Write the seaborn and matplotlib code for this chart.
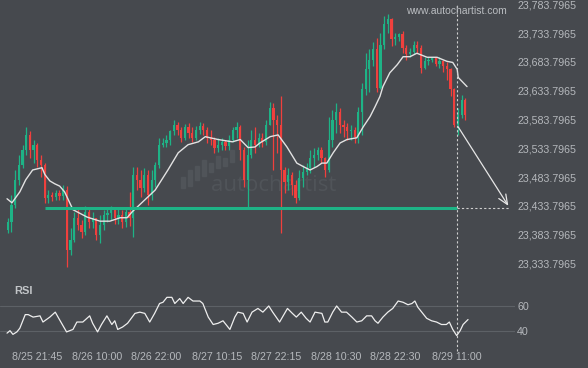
import numpy as np
import matplotlib
matplotlib.use('Agg')
import matplotlib.pyplot as plt
from matplotlib.patches import Rectangle
import seaborn as sns

# --- data (hours counted from 8/25 00:00, 45-minute candles) ---
first_open = 23392
closes = [23406, 23435, 23479, 23505, 23531, 23557, 23531, 23540, 23514, 23505,
          23447, 23453, 23449, 23456, 23451, 23461, 23357, 23374, 23413, 23400,
          23388, 23423, 23406, 23413, 23383, 23400, 23418, 23421, 23427, 23413,
          23418, 23406, 23423, 23413, 23488, 23479, 23465, 23488, 23453, 23479,
          23505, 23540, 23543, 23549, 23563, 23575, 23566, 23552, 23570, 23561,
          23552, 23566, 23573, 23566, 23552, 23549, 23535, 23540, 23545, 23538,
          23549, 23566, 23570, 23531, 23479, 23522, 23549, 23540, 23552, 23545,
          23575, 23604, 23583, 23575, 23496, 23475, 23488, 23470, 23447, 23482,
          23493, 23500, 23517, 23522, 23531, 23517, 23496, 23549, 23583, 23597,
          23575, 23570, 23563, 23566, 23554, 23597, 23636, 23671, 23688, 23706,
          23639, 23714, 23749, 23758, 23723, 23728, 23732, 23709, 23697, 23702,
          23714, 23709, 23674, 23685, 23688, 23690, 23681, 23685, 23676, 23671,
          23636, 23575, 23592, 23618, 23592]
highs = [23413, 23453, 23496, 23522, 23540, 23570, 23563, 23549, 23543, 23522,
         23508, 23461, 23458, 23461, 23461, 23470, 23468, 23395, 23423, 23432,
         23409, 23434, 23430, 23423, 23413, 23418, 23427, 23432, 23434, 23432,
         23430, 23427, 23432, 23458, 23502, 23502, 23496, 23500, 23496, 23496,
         23510, 23552, 23552, 23557, 23566, 23583, 23580, 23571, 23576, 23578,
         23571, 23573, 23580, 23578, 23570, 23566, 23554, 23552, 23552, 23549,
         23556, 23571, 23580, 23575, 23536, 23549, 23566, 23570, 23561, 23561,
         23583, 23615, 23613, 23592, 23624, 23502, 23500, 23493, 23479, 23496,
         23505, 23508, 23531, 23535, 23536, 23536, 23519, 23589, 23601, 23613,
         23604, 23583, 23578, 23575, 23570, 23606, 23648, 23700, 23706, 23718,
         23726, 23735, 23763, 23767, 23761, 23735, 23735, 23737, 23714, 23709,
         23720, 23720, 23714, 23692, 23692, 23693, 23692, 23692, 23688, 23683,
         23674, 23639, 23604, 23627, 23622]
lows = [23386, 23388, 23430, 23470, 23500, 23522, 23517, 23508, 23502, 23484,
        23439, 23439, 23442, 23444, 23444, 23444, 23327, 23348, 23371, 23392,
        23378, 23383, 23395, 23395, 23374, 23369, 23392, 23406, 23409, 23402,
        23402, 23395, 23397, 23399, 23379, 23461, 23449, 23458, 23435, 23444,
        23467, 23500, 23536, 23536, 23540, 23557, 23557, 23545, 23549, 23552,
        23545, 23549, 23559, 23557, 23543, 23540, 23526, 23528, 23531, 23531,
        23531, 23545, 23552, 23514, 23467, 23430, 23517, 23526, 23536, 23536,
        23540, 23575, 23496, 23526, 23386, 23456, 23461, 23453, 23439, 23444,
        23467, 23488, 23491, 23502, 23514, 23508, 23484, 23493, 23536, 23561,
        23561, 23554, 23549, 23549, 23543, 23543, 23557, 23627, 23631, 23676,
        23631, 23636, 23706, 23735, 23711, 23714, 23720, 23700, 23688, 23692,
        23697, 23700, 23665, 23671, 23678, 23683, 23676, 23674, 23667, 23653,
        23624, 23570, 23557, 23587, 23583]

ma_hours = [15.6, 16.6, 18.2, 19.4, 20.8, 22.7, 23.3, 24.3, 25.3, 26.3, 27.3, 29.0,
            31.9, 34.5, 36.5, 38.6, 40.0, 41.0, 43.6, 45.7, 48.3, 50.4, 52.4, 54.5,
            55.9, 56.9, 58.5, 61.4, 63.0, 64.6, 66.0, 67.0, 69.1, 70.7, 72.5, 74.5,
            75.8, 77.2, 78.6, 79.6, 80.6, 81.9, 83.3, 84.7, 86.7, 88.0, 89.4, 90.4,
            91.4, 92.0, 93.4, 94.9, 96.1, 97.5, 98.9, 101.0, 103.0, 105.0, 106.2,
            107.1, 107.3, 109.1]
ma_values = [23446, 23439, 23458, 23479, 23496, 23500, 23488, 23477, 23472, 23468,
             23458, 23427, 23414, 23407, 23407, 23413, 23413, 23423, 23444, 23461,
             23496, 23526, 23540, 23545, 23554, 23552, 23549, 23545, 23549, 23535,
             23536, 23543, 23554, 23557, 23536, 23508, 23502, 23496, 23502, 23508,
             23508, 23526, 23543, 23549, 23552, 23571, 23589, 23606, 23624, 23641,
             23665, 23679, 23693, 23693, 23699, 23692, 23692, 23685, 23683, 23671,
             23657, 23641]

rsi_hours = [15.6, 16.2, 16.8, 17.6, 18.2, 19.3, 19.9, 20.9, 22.3, 22.9, 24.3, 25.4,
             26.4, 27.7, 29.0, 29.8, 31.0, 32.4, 33.0, 34.0, 34.8, 35.9, 36.9, 37.5,
             38.1, 39.1, 40.1, 41.6, 42.6, 43.6, 44.6, 45.6, 46.6, 47.3, 48.1, 49.1,
             49.7, 50.7, 51.4, 52.4, 53.4, 54.8, 55.4, 56.5, 57.5, 58.5, 59.5, 60.9,
             61.9, 62.5, 63.6, 64.4, 65.4, 66.6, 67.6, 68.8, 69.6, 71.0, 72.6, 73.6,
             74.4, 75.4, 76.4, 77.2, 78.2, 79.6, 80.2, 80.8, 81.8, 82.6, 83.6, 84.6,
             85.7, 86.7, 87.7, 88.7, 89.7, 90.4, 91.0, 92.0, 93.0, 94.0, 95.1, 96.1,
             97.1, 97.9, 98.5, 99.1, 100.1, 100.9, 101.9, 102.9, 103.9, 104.9, 105.5,
             106.2, 107.0, 107.7, 108.3, 109.3]
rsi_values = [38, 40, 37, 39, 42, 53, 53, 51, 52, 47, 51, 55,
              48, 39, 41, 47, 47, 52, 46, 39, 45, 52, 45, 48,
              41, 43, 46, 54, 55, 54, 47, 54, 62, 63, 67, 67,
              62, 66, 62, 67, 64, 64, 62, 51, 45, 46, 48, 41,
              51, 55, 54, 47, 55, 58, 55, 60, 55, 47, 58, 54,
              51, 55, 50, 47, 55, 54, 47, 47, 55, 60, 55, 55,
              51, 47, 48, 52, 52, 48, 46, 51, 55, 58, 64, 63,
              61, 62, 64, 59, 54, 50, 48, 47, 45, 45, 47,
              41, 36, 40, 45, 49]

tick_hours = [21.75, 34.0, 46.0, 58.25, 70.25, 82.5, 94.5, 107.0]
tick_labels = ['8/25 21:45', '8/26 10:00', '8/26 22:00', '8/27 10:15',
               '8/27 22:15', '8/28 10:30', '8/28 22:30', '8/29 11:00']
price_ticks = [23333.7965, 23383.7965, 23433.7965, 23483.7965, 23533.7965,
               23583.7965, 23633.7965, 23683.7965, 23733.7965, 23783.7965]

level = 23429.6          # support line
level_start = 23.3
now_hour = 107.0
arrow_start = 23575
arrow_end_hour = 117.8

# --- style ---
bg = '#46494e'
txt = '#b5b8bc'
green = '#1eb386'
red = '#f0403d'
sns.set_style('dark', {'axes.facecolor': bg, 'figure.facecolor': bg})
plt.rcParams['font.family'] = ['Liberation Sans', 'DejaVu Sans']

fig = plt.figure(figsize=(5.88, 3.68), dpi=100)
W, H = 588, 368
ax = fig.add_axes([0, 1 - 283 / H, 515 / W, 283 / H])
rsi_ax = fig.add_axes([0, 1 - 345 / H, 515 / W, 62 / H])

xlim = (14.17, 118.85)

# --- watermark (logo bars + word) ---
wm = '#505459'
for bx, btop, bbot in [(181, 177, 188), (188, 170, 186), (195, 166, 180),
                       (202, 160, 176), (209, 163, 172), (216, 156, 168),
                       (223, 158, 166), (230, 150, 162)]:
    fig.patches.append(Rectangle((bx / W, 1 - bbot / H), 3.5 / W, (bbot - btop) / H,
                                 transform=fig.transFigure, color=wm, zorder=0))
ax.text(0.532, 0.346, 'autochartist', transform=ax.transAxes, ha='center',
        va='center', fontsize=16, color=wm, family='Open Sans', zorder=0)

# --- candles ---
closes_a = np.array(closes, dtype=float)
opens_a = np.r_[first_open, closes_a[:-1]]
candle_hours = 15.75 + 0.75 * np.arange(len(closes_a))
colors = np.where(closes_a >= opens_a, green, red)

ax.vlines(candle_hours, lows, highs, colors=colors, lw=0.9, zorder=2)
ax.bar(candle_hours, closes_a - opens_a, bottom=opens_a, width=0.45,
       color=colors, linewidth=0, zorder=3)

sns.lineplot(x=ma_hours, y=ma_values, ax=ax, color='#e2e2e2', lw=1.0, zorder=4)

ax.hlines(level, level_start, now_hour, color=green, lw=2.2, zorder=5)
ax.hlines(level, now_hour, arrow_end_hour, color='#cfcfcf', lw=0.8,
          linestyles=(0, (2, 2)), zorder=5)
ax.axvline(now_hour, ymin=0, ymax=0.985, color='#cfcfcf', lw=0.8,
           ls=(0, (2, 2)), zorder=5)
ax.annotate('', xy=(arrow_end_hour, level), xytext=(now_hour, arrow_start),
            arrowprops=dict(arrowstyle='->,head_length=0.7,head_width=0.3',
                            color='#e6e6e6', lw=0.9), zorder=6)

ax.set_xlim(xlim)
ax.set_ylim(23299.5, 23791.6)
ax.set_xticks([])
ax.yaxis.tick_right()
ax.set_yticks(price_ticks)
ax.set_yticklabels([f'{v:,.4f}' for v in price_ticks])
ax.tick_params(axis='y', length=0, pad=1.5, labelsize=7.7, labelcolor=txt)
ax.set_xlabel('')
ax.set_ylabel('')
for s in ax.spines.values():
    s.set_visible(False)

fig.text(456 / W, 1 - 11 / H, 'www.autochartist.com', ha='center', va='center',
         fontsize=7.5, color='#b9bcc0')

# --- RSI panel ---
rsi_ax.set_facecolor('none')
rsi_ax.axhline(60, color='#5d6166', lw=0.8)
rsi_ax.axhline(40, color='#5d6166', lw=0.8)
sns.lineplot(x=rsi_hours, y=rsi_values, ax=rsi_ax, color='#eeeeee', lw=0.9)
rsi_ax.axvline(now_hour, ymin=-0.1, ymax=1, color='#cfcfcf', lw=0.8,
               ls=(0, (2, 2)), clip_on=False)
rsi_ax.text(14 / 515, 0.87, 'RSI', transform=rsi_ax.transAxes, ha='left',
            va='center', fontsize=8, fontweight='bold', color='#c2c5c8')
rsi_ax.set_xlim(xlim)
rsi_ax.set_ylim(28.4, 78.6)
rsi_ax.yaxis.tick_right()
rsi_ax.set_yticks([40, 60])
rsi_ax.set_yticklabels(['40', '60'])
rsi_ax.set_xticks(tick_hours)
rsi_ax.set_xticklabels(tick_labels)
rsi_ax.tick_params(axis='both', length=0, labelsize=7.7, labelcolor=txt)
rsi_ax.tick_params(axis='y', pad=1.5)
rsi_ax.tick_params(axis='x', pad=5)
rsi_ax.set_xlabel('')
rsi_ax.set_ylabel('')
for s in rsi_ax.spines.values():
    s.set_visible(False)

fig.savefig('out.png', dpi=100, facecolor=bg)
